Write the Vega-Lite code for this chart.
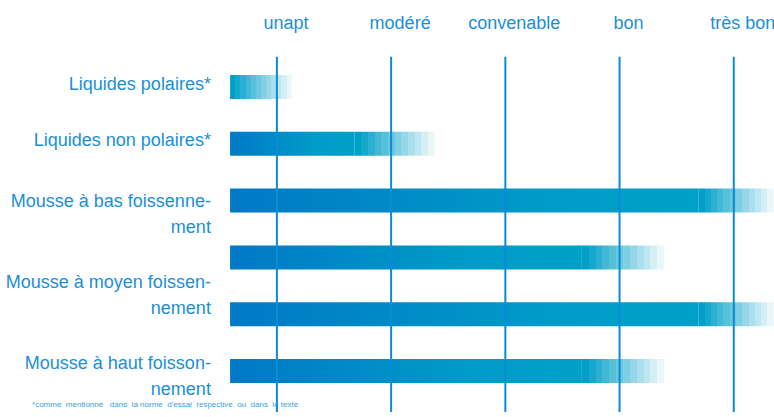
{
  "$schema": "https://vega.github.io/schema/vega-lite/v6.json",
  "width": 774,
  "height": 417,
  "autosize": {"type": "none"},
  "padding": 0,
  "background": "white",
  "config": {"view": {"stroke": null}, "axis": {"disable": true}},
  "datasets": {
    "bars": [
      {"name": "Liquides polaires*", "row": 1, "start": 0.59, "fade": 0.59, "end": 1.13},
      {"name": "Liquides non polaires*", "row": 2, "start": 0.59, "fade": 1.68, "end": 2.38},
      {"name": "Mousse à bas foissennement", "row": 3, "start": 0.59, "fade": 4.69, "end": 5.35},
      {"name": "Mousse à bas foissennement (2)", "row": 4, "start": 0.59, "fade": 3.67, "end": 4.39},
      {"name": "Mousse à moyen foissennement", "row": 5, "start": 0.59, "fade": 4.69, "end": 5.35},
      {"name": "Mousse à haut foissonnement", "row": 6, "start": 0.59, "fade": 3.67, "end": 4.39}
    ],
    "levels": [
      {"level": 1, "text": "unapt"},
      {"level": 2, "text": "modéré"},
      {"level": 3, "text": "convenable"},
      {"level": 4, "text": "bon"},
      {"level": 5, "text": "très bon"}
    ],
    "labels": [
      {"row": 0.97, "text": "Liquides polaires*"},
      {"row": 1.96, "text": "Liquides non polaires*"},
      {"row": 3.027, "text": "Mousse à bas foissenne-\nment"},
      {"row": 4.454, "text": "Mousse à moyen foissen-\nnement"},
      {"row": 5.88, "text": "Mousse à haut foisson-\nnement"}
    ]
  },
  "layer": [
    {
      "data": {"name": "bars"},
      "mark": {
        "type": "bar", "orient": "horizontal", "height": 24,
        "color": {"gradient": "linear", "x1": 0, "x2": 1, "y1": 0, "y2": 0,
          "stops": [{"offset": 0, "color": "#0079C6"}, {"offset": 0.7, "color": "#009CC8"}, {"offset": 1, "color": "#00A0C8"}]}
      },
      "encoding": {
        "x": {"field": "start", "type": "quantitative", "scale": {"domain": [-1.4245, 5.3523], "nice": false, "zero": false}},
        "x2": {"field": "fade"},
        "y": {"field": "row", "type": "quantitative", "scale": {"domain": [-0.443, 6.722], "nice": false, "zero": false, "reverse": true}}
      }
    },
    {
      "data": {"name": "bars"},
      "mark": {
        "type": "bar", "orient": "horizontal", "height": 24,
        "color": {"gradient": "linear", "x1": 0, "x2": 1, "y1": 0, "y2": 0,
          "stops": [
            {"offset": 0, "color": "#00A0C8"}, {"offset": 0.0833, "color": "#00A0C8"},
            {"offset": 0.0833, "color": "#15A8CD"}, {"offset": 0.1667, "color": "#15A8CD"},
            {"offset": 0.1667, "color": "#2BB0D1"}, {"offset": 0.25, "color": "#2BB0D1"},
            {"offset": 0.25, "color": "#40B8D6"}, {"offset": 0.3333, "color": "#40B8D6"},
            {"offset": 0.3333, "color": "#55C0DA"}, {"offset": 0.4167, "color": "#55C0DA"},
            {"offset": 0.4167, "color": "#6AC8DF"}, {"offset": 0.5, "color": "#6AC8DF"},
            {"offset": 0.5, "color": "#80D0E4"}, {"offset": 0.5833, "color": "#80D0E4"},
            {"offset": 0.5833, "color": "#95D7E8"}, {"offset": 0.6667, "color": "#95D7E8"},
            {"offset": 0.6667, "color": "#AADFED"}, {"offset": 0.75, "color": "#AADFED"},
            {"offset": 0.75, "color": "#BFE7F1"}, {"offset": 0.8333, "color": "#BFE7F1"},
            {"offset": 0.8333, "color": "#D5EFF6"}, {"offset": 0.9167, "color": "#D5EFF6"},
            {"offset": 0.9167, "color": "#EAF7FA"}, {"offset": 1, "color": "#EAF7FA"}
          ]}
      },
      "encoding": {
        "x": {"field": "fade", "type": "quantitative", "scale": {"domain": [-1.4245, 5.3523], "nice": false, "zero": false}},
        "x2": {"field": "end"},
        "y": {"field": "row", "type": "quantitative", "scale": {"domain": [-0.443, 6.722], "nice": false, "zero": false, "reverse": true}}
      }
    },
    {
      "data": {"name": "levels"},
      "mark": {"type": "rule", "color": "#0B8AD6", "strokeWidth": 2},
      "encoding": {
        "x": {"field": "level", "type": "quantitative", "scale": {"domain": [-1.4245, 5.3523], "nice": false, "zero": false}},
        "y": {"datum": 0.467, "type": "quantitative", "scale": {"domain": [-0.443, 6.722], "nice": false, "zero": false, "reverse": true}},
        "y2": {"datum": 6.722}
      }
    },
    {
      "data": {"name": "levels"},
      "mark": {"type": "text", "color": "#1A8FD6", "font": "Liberation Sans", "fontSize": 18, "align": "center", "baseline": "middle", "dx": 9},
      "encoding": {
        "x": {"field": "level", "type": "quantitative", "scale": {"domain": [-1.4245, 5.3523], "nice": false, "zero": false}},
        "y": {"datum": -0.11, "type": "quantitative", "scale": {"domain": [-0.443, 6.722], "nice": false, "zero": false, "reverse": true}},
        "text": {"field": "text"}
      }
    },
    {
      "data": {"name": "labels"},
      "mark": {"type": "text", "color": "#1A8FD6", "font": "Liberation Sans", "fontSize": 18, "align": "right", "baseline": "middle", "lineBreak": "\n", "lineHeight": 26},
      "encoding": {
        "x": {"datum": 0.422, "type": "quantitative", "scale": {"domain": [-1.4245, 5.3523], "nice": false, "zero": false}},
        "y": {"field": "row", "type": "quantitative", "scale": {"domain": [-0.443, 6.722], "nice": false, "zero": false, "reverse": true}},
        "text": {"field": "text"}
      }
    },
    {
      "data": {"values": [{"note": "*comme\u00a0 mentionné\u00a0\u00a0 dans\u00a0 la norme\u00a0 d'essai\u00a0 respective\u00a0 ou\u00a0 dans\u00a0 le texte"}]},
      "mark": {"type": "text", "color": "#3A9FE0", "font": "Liberation Sans", "fontSize": 8, "align": "left", "baseline": "middle"},
      "encoding": {
        "x": {"datum": -1.144, "type": "quantitative", "scale": {"domain": [-1.4245, 5.3523], "nice": false, "zero": false}},
        "y": {"datum": 6.6, "type": "quantitative", "scale": {"domain": [-0.443, 6.722], "nice": false, "zero": false, "reverse": true}},
        "text": {"field": "note"}
      }
    }
  ]
}
